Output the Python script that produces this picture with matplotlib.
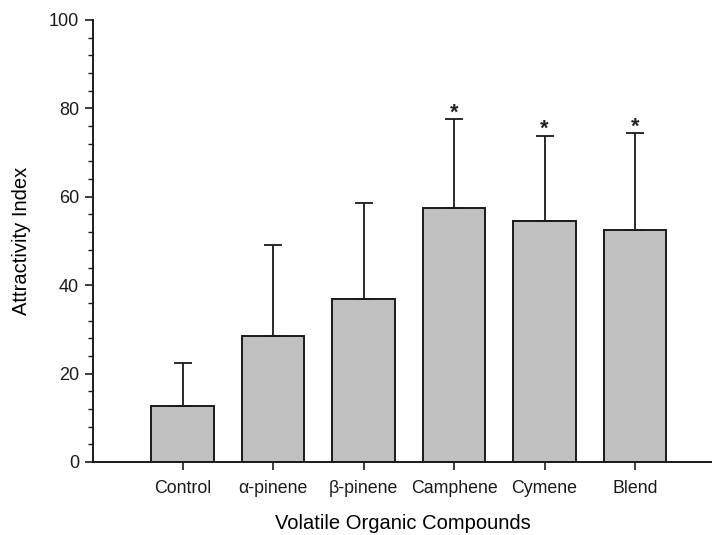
import matplotlib
matplotlib.use("Agg")
import matplotlib.pyplot as plt
from matplotlib.ticker import MultipleLocator

plt.rcParams['font.family'] = ['Liberation Sans', 'DejaVu Sans']

categories = ["Control", "α-pinene", "β-pinene", "Camphene", "Cymene", "Blend"]
means = [12.7, 28.5, 36.9, 57.5, 54.5, 52.5]
err_upper = [9.7, 20.5, 21.7, 20.1, 19.3, 21.9]
significant = [False, False, False, True, True, True]
y_ticks = [0, 20, 40, 60, 80, 100]

fig = plt.figure(figsize=(7.12, 5.35), dpi=100)
ax = fig.add_axes([93/712, 1-462/535, 1-93/712, (462-20)/535])

x = list(range(len(categories)))
ax.bar(x, means, width=0.69, color='#c0c0c0', edgecolor='#1a1a1a', linewidth=1.4, zorder=2)
ax.errorbar(x, means, yerr=[[0]*len(means), err_upper], fmt='none', ecolor='#1a1a1a',
            elinewidth=1.3, capsize=6.5, capthick=1.3, zorder=3)
for xi, m, e, s in zip(x, means, err_upper, significant):
    if s:
        ax.annotate('*', (xi, m + e), xytext=(0, 0.5), textcoords='offset points',
                    ha='center', va='baseline', fontsize=15.5, fontweight='bold', color='#222222')

ax.set_xlim(-0.99, 5.85)
ax.set_ylim(0, 100)
ax.set_yticks(y_ticks)
ax.yaxis.set_minor_locator(MultipleLocator(4))
ax.set_xticks(x)
ax.set_xticklabels(categories)
ax.spines['top'].set_visible(False)
ax.spines['right'].set_visible(False)
for s in ['left', 'bottom']:
    ax.spines[s].set_linewidth(1.4)
    ax.spines[s].set_color('#1a1a1a')
ax.tick_params(axis='y', which='major', length=6, width=1.2, labelsize=13, pad=4, colors='#1a1a1a')
ax.tick_params(axis='y', which='minor', length=3.5, width=1.0, colors='#1a1a1a')
ax.tick_params(axis='x', which='major', length=6, width=1.2, labelsize=12.8, pad=7, colors='#1a1a1a')
ax.set_ylabel('Attractivity Index', fontsize=14.5, labelpad=13)
ax.set_xlabel('Volatile Organic Compounds', fontsize=14.5, labelpad=12)

fig.savefig('out.png', dpi=100)
